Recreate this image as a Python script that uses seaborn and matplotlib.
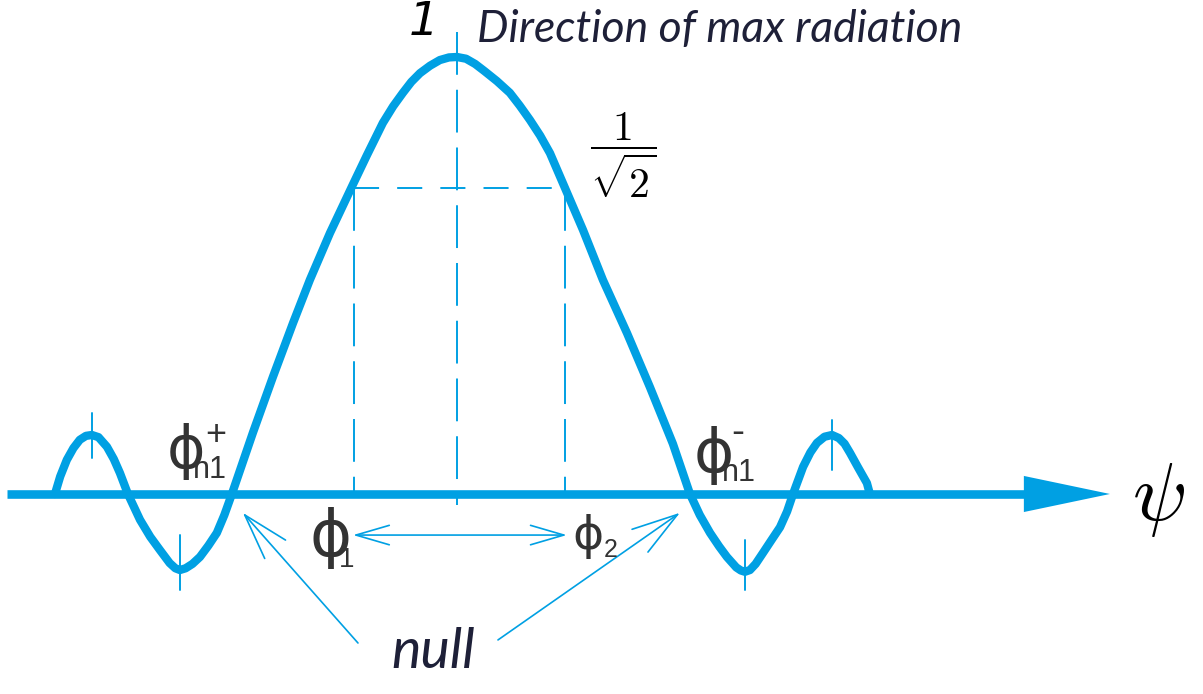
import numpy as np
import pandas as pd
import seaborn as sns
import matplotlib.pyplot as plt

# --- DATA ---
# array factor vs psi, main lobe normalised to 1, nulls near psi = +-1
psi = [-1.763, -1.740, -1.711, -1.682, -1.654, -1.627, -1.601, -1.572, -1.535,
       -1.505, -1.478, -1.443, -1.390, -1.345, -1.303, -1.260, -1.235, -1.215,
       -1.190, -1.160, -1.127, -1.090, -1.053, -1.020, -0.987,
       -0.895, -0.807, -0.719, -0.645, -0.557, -0.461, -0.395, -0.325, -0.280,
       -0.237, -0.200, -0.162, -0.118, -0.075, -0.035, 0.0, 0.040, 0.080, 0.120,
       0.175, 0.232, 0.275, 0.320, 0.365, 0.408, 0.474, 0.553, 0.640, 0.746,
       0.846, 0.947, 1.022,
       1.065, 1.110, 1.150, 1.184, 1.225, 1.245, 1.263, 1.285, 1.310, 1.342,
       1.380, 1.417, 1.448, 1.474, 1.518, 1.550, 1.579, 1.612, 1.645, 1.675,
       1.700, 1.724, 1.760, 1.798, 1.811]
gain = [0.0, 0.040, 0.078, 0.105, 0.124, 0.133, 0.135, 0.130, 0.108,
        0.080, 0.048, 0.0, -0.059, -0.098, -0.128, -0.158, -0.170, -0.174,
        -0.170, -0.160, -0.144, -0.118, -0.089, -0.048, 0.0,
        0.140, 0.268, 0.391, 0.490, 0.597, 0.703, 0.775, 0.849, 0.887,
        0.918, 0.943, 0.963, 0.980, 0.993, 0.999, 1.0, 0.996, 0.984, 0.968,
        0.945, 0.918, 0.889, 0.856, 0.820, 0.780, 0.700, 0.604, 0.490, 0.368,
        0.245, 0.115, 0.0,
        -0.048, -0.089, -0.120, -0.144, -0.168, -0.175, -0.178, -0.174, -0.160, -0.135,
        -0.105, -0.076, -0.040, 0.0, 0.062, 0.095, 0.117, 0.131, 0.135, 0.128,
        0.115, 0.094, 0.060, 0.025, 0.0]

lobe_psi = [-1.601, -1.215, 1.263, 1.645]
lobe_tick_lo = [0.082, -0.220, -0.220, 0.055]
lobe_tick_hi = [0.185, -0.094, -0.105, 0.169]

half_power = 0.70
half_psi = [-0.45, 0.474]
null_psi = [-0.939, 0.978]

BLUE = "#00a0e3"
DARK = "#333333"
INK = "#1e2038"

df = pd.DataFrame({"psi": psi, "gain": gain})

sns.set_style("white")
plt.rcParams["mathtext.fontset"] = "cm"

fig = plt.figure(figsize=(12.03, 6.94), dpi=100)
ax = fig.add_axes([0, 0, 1, 1])
ax.set_xlim(-2.004, 3.272)
ax.set_ylim(-0.4577, 1.1304)
ax.axis("off")

# --- psi axis with arrow ---
ax.plot([-1.974, 2.6], [0, 0], color=BLUE, lw=6.2, solid_capstyle="butt")
ax.annotate("", xy=(2.864, 0), xytext=(2.40, 0),
            arrowprops=dict(arrowstyle="-|>,head_length=62,head_width=13",
                            mutation_scale=1, lw=0, color=BLUE,
                            shrinkA=0, shrinkB=0))

# --- the pattern ---
sns.lineplot(data=df, x="psi", y="gain", sort=False, estimator=None,
             color=BLUE, lw=6, ax=ax, solid_joinstyle="round")

# --- guide lines ---
ax.plot([0, 0], [1.057, -0.025], color=BLUE, lw=1.4, dashes=(22, 7.7))
ax.plot(half_psi, [half_power, half_power], color=BLUE, lw=1.4, dashes=(12.9, 9.3))
for p in half_psi:
    ax.plot([p, p], [half_power, 0], color=BLUE, lw=1.4, dashes=(22, 7.7))
for p, lo, hi in zip(lobe_psi, lobe_tick_lo, lobe_tick_hi):
    ax.plot([p, p], [lo, hi], color=BLUE, lw=1.4)

# --- arrows ---
thin = dict(mutation_scale=1, lw=1.2, color=BLUE, shrinkA=0, shrinkB=0)
ax.annotate("", xy=(null_psi[0], -0.043), xytext=(-0.434, -0.341),
            arrowprops=dict(arrowstyle="->,head_length=33,head_width=10", **thin))
ax.annotate("", xy=(null_psi[1], -0.043), xytext=(0.180, -0.334),
            arrowprops=dict(arrowstyle="->,head_length=33,head_width=10", **thin))
ax.annotate("", xy=(0.482, -0.094), xytext=(-0.456, -0.094),
            arrowprops=dict(arrowstyle="<->,head_length=24,head_width=7", **thin))

# --- labels ---
ax.text(-0.145, 1.080, "1", family="DejaVu Sans", style="italic", fontsize=34,
        color="black", ha="center", va="center")
ax.text(0.088, 1.062, "Direction of max radiation", family="Lato", style="italic",
        fontsize=32, color=INK, ha="left", va="center")
ax.text(0.728, 0.775, r"$\dfrac{1}{\sqrt{2}}$", fontsize=30, color="black",
        ha="center", va="center")
ax.text(3.075, -0.014, r"$\psi$", fontsize=58, color="black", ha="center", va="center")
ax.text(-0.105, -0.362, "null", family="Lato", style="italic", fontsize=40,
        color=INK, ha="center", va="center")

phi = dict(family="DejaVu Sans", color=DARK, ha="center", va="center")
sub = dict(family="Liberation Sans", color=DARK, ha="center", va="center")
ax.text(-0.553, -0.101, "ϕ", fontsize=46, **phi)
ax.text(-0.485, -0.150, "1", fontsize=20, **sub)
ax.text(0.575, -0.098, "ϕ", fontsize=34, **phi)
ax.text(0.675, -0.128, "2", fontsize=18, **sub)

ax.text(-1.189, 0.098, "ϕ", fontsize=42, **phi)
ax.text(-1.085, 0.055, "n1", fontsize=22, **sub)
ax.text(-1.057, 0.133, "+", fontsize=26, **sub)
ax.text(1.127, 0.087, "ϕ", fontsize=44, **phi)
ax.text(1.235, 0.048, "n1", fontsize=22, **sub)
ax.text(1.232, 0.140, "-", fontsize=28, **sub)

fig.savefig("out.png", dpi=100)
